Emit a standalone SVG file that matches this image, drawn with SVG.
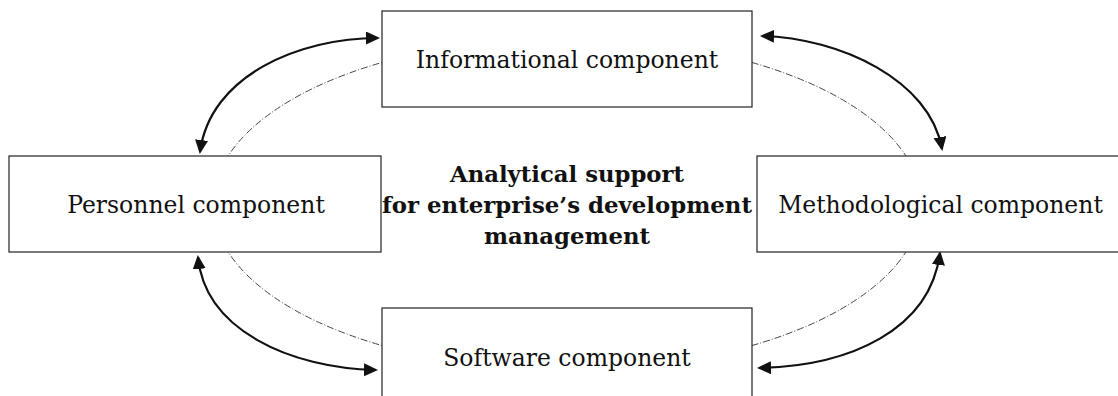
<svg xmlns="http://www.w3.org/2000/svg" width="1118" height="396" viewBox="0 0 1118 396">
<style>
.box{fill:#fff;stroke:#222;stroke-width:1.2}
.lbl{font-family:"DejaVu Serif","Liberation Serif",serif;font-size:23.5px;fill:#111;text-anchor:middle}
.ttl{font-family:"DejaVu Serif","Liberation Serif",serif;font-size:23px;font-weight:bold;fill:#111;text-anchor:middle}
.arr{fill:none;stroke:#111;stroke-width:2.2;marker-start:url(#ah);marker-end:url(#ah)}
.ring{fill:none;stroke:#444;stroke-width:1;stroke-dasharray:7 2 1 2}
</style>
<defs>
<marker id="ah" markerUnits="userSpaceOnUse" markerWidth="15" markerHeight="14" refX="12" refY="6.5" orient="auto-start-reverse">
<path d="M0,0 L14,6.5 L0,13 z" fill="#111"/>
</marker>
</defs>
<rect width="1118" height="396" fill="#fff"/>
<g id="connectors">
<ellipse class="ring" cx="567" cy="204" rx="354" ry="166"/>
<path class="arr" d="M378,38 C300,38 210,75 200,152"/>
<path class="arr" d="M762,36 C840,38 930,80 942,149"/>
<path class="arr" d="M198,257 C205,330 290,368 376,370"/>
<path class="arr" d="M940,253 C930,330 850,366 759,368"/>
</g>
<g id="informational">
<rect class="box" x="382" y="11" width="370" height="96"/>
<text class="lbl" x="567" y="68">Informational component</text>
</g>
<g id="personnel">
<rect class="box" x="9" y="156" width="372" height="96"/>
<text class="lbl" x="196" y="213">Personnel component</text>
</g>
<g id="methodological">
<rect class="box" x="757" y="156" width="367" height="96"/>
<text class="lbl" x="940.5" y="213">Methodological component</text>
</g>
<g id="software">
<rect class="box" x="382" y="308" width="370" height="96"/>
<text class="lbl" x="567" y="366">Software component</text>
</g>
<g id="center">
<text class="ttl" x="567" y="182" textLength="234" lengthAdjust="spacingAndGlyphs">Analytical support</text>
<text class="ttl" x="567" y="213" textLength="370" lengthAdjust="spacingAndGlyphs">for enterprise’s development</text>
<text class="ttl" x="567" y="244" textLength="166" lengthAdjust="spacingAndGlyphs">management</text>
</g>
</svg>
